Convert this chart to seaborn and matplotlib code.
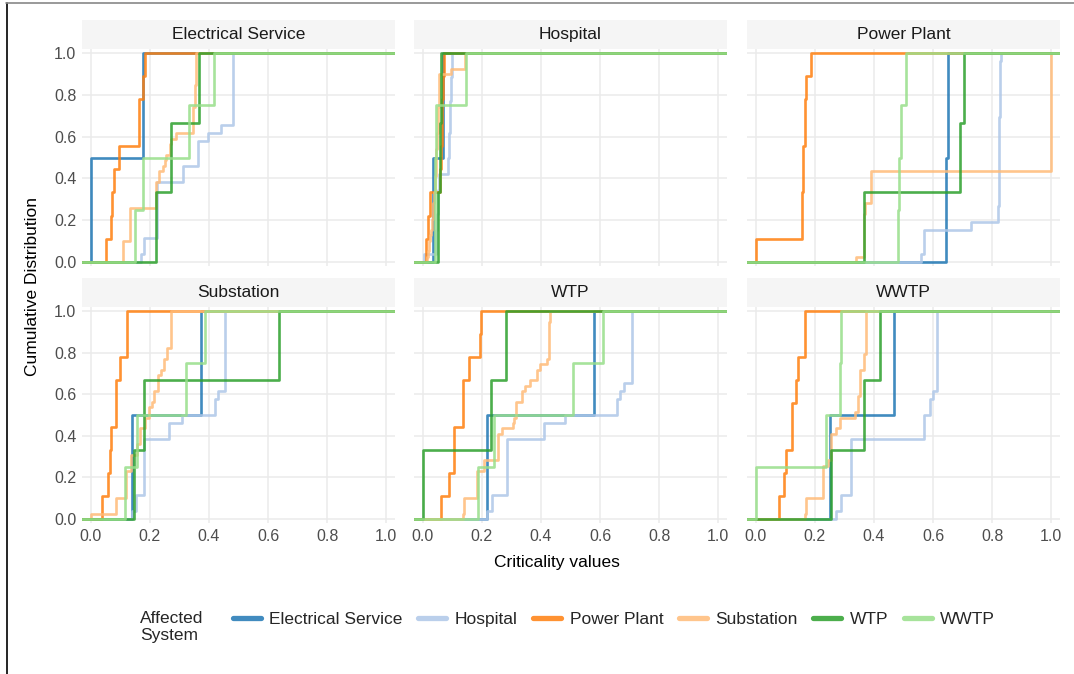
import numpy as np
import pandas as pd
import matplotlib
matplotlib.use("Agg")
import matplotlib.pyplot as plt
from matplotlib.patches import Rectangle
from matplotlib.lines import Line2D
import seaborn as sns

# ---------------- data ----------------
SYSTEMS = ["Electrical Service", "Hospital", "Power Plant", "Substation", "WTP", "WWTP"]
FACETS = ["Electrical Service", "Hospital", "Power Plant", "Substation", "WTP", "WWTP"]
COLORS = ["#1f77b4", "#aec7e8", "#ff7f0e", "#ffbb78", "#2ca02c", "#98df8a"]
X_TICKS = [0.0, 0.2, 0.4, 0.6, 0.8, 1.0]
Y_TICKS = [0.0, 0.2, 0.4, 0.6, 0.8, 1.0]
TICK_LABELS = ["0.0", "0.2", "0.4", "0.6", "0.8", "1.0"]

facet_electrical_service = {
    "Electrical Service": [0.000, 0.177],
    "Hospital": [0.171, 0.180, 0.180, 0.224, 0.224, 0.224, 0.224, 0.224, 0.224, 0.224,
                 0.312, 0.312, 0.363, 0.363, 0.363, 0.397, 0.442,
                 0.481, 0.481, 0.481, 0.481, 0.481, 0.481, 0.481, 0.481, 0.481],
    "Power Plant": [0.050, 0.068, 0.072, 0.079, 0.095, 0.162, 0.162, 0.177, 0.183],
    "Substation": [0.109, 0.109, 0.109, 0.109, 0.132, 0.132, 0.132, 0.132, 0.132, 0.132,
                   0.222, 0.222, 0.222, 0.222, 0.222, 0.230, 0.230, 0.245, 0.251, 0.256,
                   0.267, 0.267, 0.273, 0.290, 0.346, 0.346, 0.346, 0.346, 0.346,
                   0.352, 0.352, 0.352, 0.352, 0.357, 0.357, 0.357, 0.357, 0.357, 0.357],
    "WTP": [0.222, 0.271, 0.366],
    "WWTP": [0.149, 0.175, 0.333, 0.417],
}

facet_hospital = {
    "Electrical Service": [0.035, 0.068],
    "Hospital": [0.003, 0.043, 0.045, 0.045, 0.047, 0.048, 0.050, 0.051, 0.051, 0.053, 0.054,
                 0.085, 0.086, 0.088, 0.088, 0.089, 0.091, 0.092, 0.092, 0.093, 0.095,
                 0.096, 0.096, 0.097, 0.098, 0.099],
    "Power Plant": [0.009, 0.019, 0.025, 0.058, 0.062, 0.064, 0.066, 0.068, 0.070],
    "Substation": [0.015, 0.018, 0.020, 0.022, 0.025, 0.027, 0.030, 0.032, 0.033, 0.035,
                   0.036, 0.038, 0.039, 0.040, 0.041, 0.042, 0.043, 0.044, 0.045, 0.046,
                   0.046, 0.047, 0.048, 0.049, 0.050, 0.050, 0.051, 0.052, 0.052, 0.053,
                   0.054, 0.054, 0.055, 0.055, 0.056, 0.095, 0.142, 0.142, 0.142],
    "WTP": [0.052, 0.059, 0.063],
    "WWTP": [0.040, 0.042, 0.044, 0.146],
}

facet_power_plant = {
    "Electrical Service": [0.644, 0.650],
    "Hospital": [0.559, 0.568, 0.568, 0.568, 0.727, 0.819,
                 0.821, 0.822, 0.822, 0.823, 0.823, 0.823, 0.824, 0.824, 0.824, 0.825,
                 0.825, 0.825, 0.826, 0.826, 0.826, 0.827, 0.827, 0.828, 0.828, 0.829],
    "Power Plant": [0.000, 0.156, 0.156, 0.158, 0.158, 0.165, 0.167, 0.169, 0.186],
    "Substation": [0.339, 0.365, 0.365, 0.365, 0.365, 0.365, 0.365, 0.365, 0.365,
                   0.370, 0.370, 0.390, 0.390, 0.390, 0.390, 0.390, 0.390,
                   1.0, 1.0, 1.0, 1.0, 1.0, 1.0, 1.0, 1.0, 1.0, 1.0, 1.0,
                   1.0, 1.0, 1.0, 1.0, 1.0, 1.0, 1.0, 1.0, 1.0, 1.0, 1.0],
    "WTP": [0.367, 0.693, 0.704],
    "WWTP": [0.481, 0.485, 0.490, 0.509],
}

facet_substation = {
    "Electrical Service": [0.139, 0.372],
    "Hospital": [0.139, 0.153, 0.153, 0.181, 0.181, 0.181, 0.181, 0.181, 0.181, 0.181,
                 0.265, 0.265, 0.307, 0.419, 0.419, 0.431,
                 0.453, 0.453, 0.453, 0.453, 0.453, 0.453, 0.453, 0.453, 0.453, 0.453],
    "Power Plant": [0.038, 0.058, 0.064, 0.069, 0.086, 0.086, 0.097, 0.121, 0.123],
    "Substation": [0.000, 0.086, 0.086, 0.086, 0.120, 0.120, 0.120, 0.120, 0.120,
                   0.136, 0.136, 0.136, 0.156, 0.156, 0.168, 0.168, 0.168, 0.183, 0.183,
                   0.198, 0.198, 0.206, 0.215, 0.215, 0.226, 0.226, 0.226, 0.237,
                   0.248, 0.248, 0.259, 0.259, 0.270, 0.270, 0.270, 0.270, 0.270, 0.270, 0.270],
    "WTP": [0.147, 0.179, 0.636],
    "WWTP": [0.116, 0.155, 0.321, 0.388],
}

facet_wtp = {
    "Electrical Service": [0.216, 0.581],
    "Hospital": [0.218, 0.235, 0.235, 0.286, 0.286, 0.286, 0.286, 0.286, 0.286, 0.286,
                 0.410, 0.410, 0.481, 0.658, 0.658, 0.669, 0.680,
                 0.709, 0.709, 0.709, 0.709, 0.709, 0.709, 0.709, 0.709, 0.709],
    "Power Plant": [0.062, 0.088, 0.107, 0.107, 0.137, 0.137, 0.156, 0.193, 0.198],
    "Substation": [0.136, 0.140, 0.140, 0.140, 0.183, 0.183, 0.183, 0.183, 0.183,
                   0.206, 0.206, 0.253, 0.253, 0.253, 0.253, 0.253, 0.268, 0.304, 0.307,
                   0.316, 0.316, 0.316, 0.336, 0.336, 0.347, 0.364, 0.386, 0.386, 0.398,
                   0.420, 0.426, 0.426, 0.426, 0.426, 0.426, 0.426, 0.426, 0.432, 0.432],
    "WTP": [0.000, 0.231, 0.283],
    "WWTP": [0.186, 0.240, 0.508, 0.609],
}

facet_wwtp = {
    "Electrical Service": [0.251, 0.469],
    "Hospital": [0.271, 0.290, 0.290, 0.322, 0.322, 0.322, 0.322, 0.322, 0.322, 0.322,
                 0.571, 0.571, 0.571, 0.591, 0.591, 0.601,
                 0.614, 0.614, 0.614, 0.614, 0.614, 0.614, 0.614, 0.614, 0.614, 0.614],
    "Power Plant": [0.077, 0.096, 0.102, 0.124, 0.124, 0.136, 0.144, 0.167, 0.167],
    "Substation": [0.167, 0.170, 0.170, 0.170, 0.226, 0.226, 0.226, 0.226, 0.226, 0.226,
                   0.243, 0.254, 0.254, 0.254, 0.254, 0.254, 0.271, 0.286, 0.286, 0.336,
                   0.347, 0.347, 0.347, 0.354, 0.354, 0.354, 0.354, 0.354,
                   0.365, 0.365, 0.365, 0.373, 0.373, 0.373, 0.373, 0.373, 0.373, 0.373, 0.373],
    "WTP": [0.256, 0.365, 0.421],
    "WWTP": [0.000, 0.237, 0.286, 0.290],
}

FACET_DATA = [facet_electrical_service, facet_hospital, facet_power_plant,
              facet_substation, facet_wtp, facet_wwtp]

rows = []
for fname, fdict in zip(FACETS, FACET_DATA):
    for sname in SYSTEMS:
        for v in fdict[sname]:
            rows.append((fname, sname, v))
df = pd.DataFrame(rows, columns=["facet", "system", "value"])

# ---------------- styling ----------------
sns.set_style("white")
plt.rcParams["font.family"] = ["Liberation Sans", "DejaVu Sans"]

W, H = 1074, 674
fig = plt.figure(figsize=(W / 100, H / 100), dpi=100)

XLIM = (-0.03, 1.03)
YLIM = (-0.02, 1.02)

lefts = [82, 414, 747]
panel_w = 313
row_boxes = [(48.8, 266.2), (306.8, 523.2)]
strip_h = 29

palette = dict(zip(SYSTEMS, COLORS))

for i, fname in enumerate(FACETS):
    r, c = divmod(i, 3)
    top, bot = row_boxes[r]
    ax = fig.add_axes([lefts[c] / W, 1 - bot / H, panel_w / W, (bot - top) / H])
    sub = df[df["facet"] == fname]
    for sname in SYSTEMS:
        sns.ecdfplot(data=sub[sub["system"] == sname], x="value", ax=ax,
                     color=palette[sname], linewidth=1.9, alpha=0.85)
    ax.set_xlim(*XLIM)
    ax.set_ylim(*YLIM)
    # extend step lines to the panel edges (like ggplot's stat_ecdf padding)
    for ln in ax.lines:
        x = np.asarray(ln.get_xdata(), float)
        y = np.asarray(ln.get_ydata(), float)
        if np.isinf(x[0]):
            x[0] = XLIM[0]
        else:
            x = np.r_[XLIM[0], x]
            y = np.r_[0.0, y]
        x = np.r_[x, XLIM[1]]
        y = np.r_[y, y[-1]]
        ln.set_data(x, y)

    ax.set_xticks(X_TICKS)
    ax.set_yticks(Y_TICKS)
    ax.grid(True, color="#ebebeb", linewidth=1.1)
    ax.set_axisbelow(True)
    for sp in ax.spines.values():
        sp.set_visible(False)
    ax.set_xlabel("")
    ax.set_ylabel("")
    ax.tick_params(length=0, labelsize=11.5, labelcolor="#4d4d4d", pad=4)
    if c == 0:
        ax.set_yticklabels(TICK_LABELS)
    else:
        ax.set_yticklabels([])
    if r == 1:
        ax.set_xticklabels(TICK_LABELS)
    else:
        ax.set_xticklabels([])

    # facet strip
    h_ax = strip_h / (bot - top)
    ax.add_patch(Rectangle((0, 1), 1, h_ax, transform=ax.transAxes, clip_on=False,
                           facecolor="#f5f5f5", edgecolor="none", zorder=0))
    ax.text(0.5, 1 + h_ax / 2, fname, transform=ax.transAxes, ha="center", va="center",
            fontsize=12.5, color="#1a1a1a")

# axis titles
fig.text(557 / W, 1 - 563 / H, "Criticality values", ha="center", va="center",
         fontsize=12.5, color="black")
fig.text(33 / W, 1 - 287 / H, "Cumulative Distribution", ha="center", va="center",
         rotation=90, fontsize=12.5, color="black")

# legend
handles = [Line2D([], [], color=col, lw=3.8, alpha=0.85) for col in COLORS]
fig.legend(handles, SYSTEMS, ncol=6, loc="center", bbox_to_anchor=(614 / W, 1 - 619 / H),
           frameon=False, fontsize=12.5, handlelength=1.6, handletextpad=0.5,
           columnspacing=0.9, borderpad=0)
fig.text(140 / W, 1 - 627 / H, "Affected\nSystem", ha="left", va="center",
         multialignment="left", fontsize=12.5, linespacing=1.1)

# outer frame lines of the screenshot
fig.add_artist(Line2D([6.5 / W, 6.5 / W], [0, 1 - 3 / H], transform=fig.transFigure,
                      color="black", lw=1.2))
fig.add_artist(Line2D([6 / W, 1], [1 - 2.5 / H, 1 - 2.5 / H], transform=fig.transFigure,
                      color="#888888", lw=1.2))

fig.savefig("out.png", dpi=100)
